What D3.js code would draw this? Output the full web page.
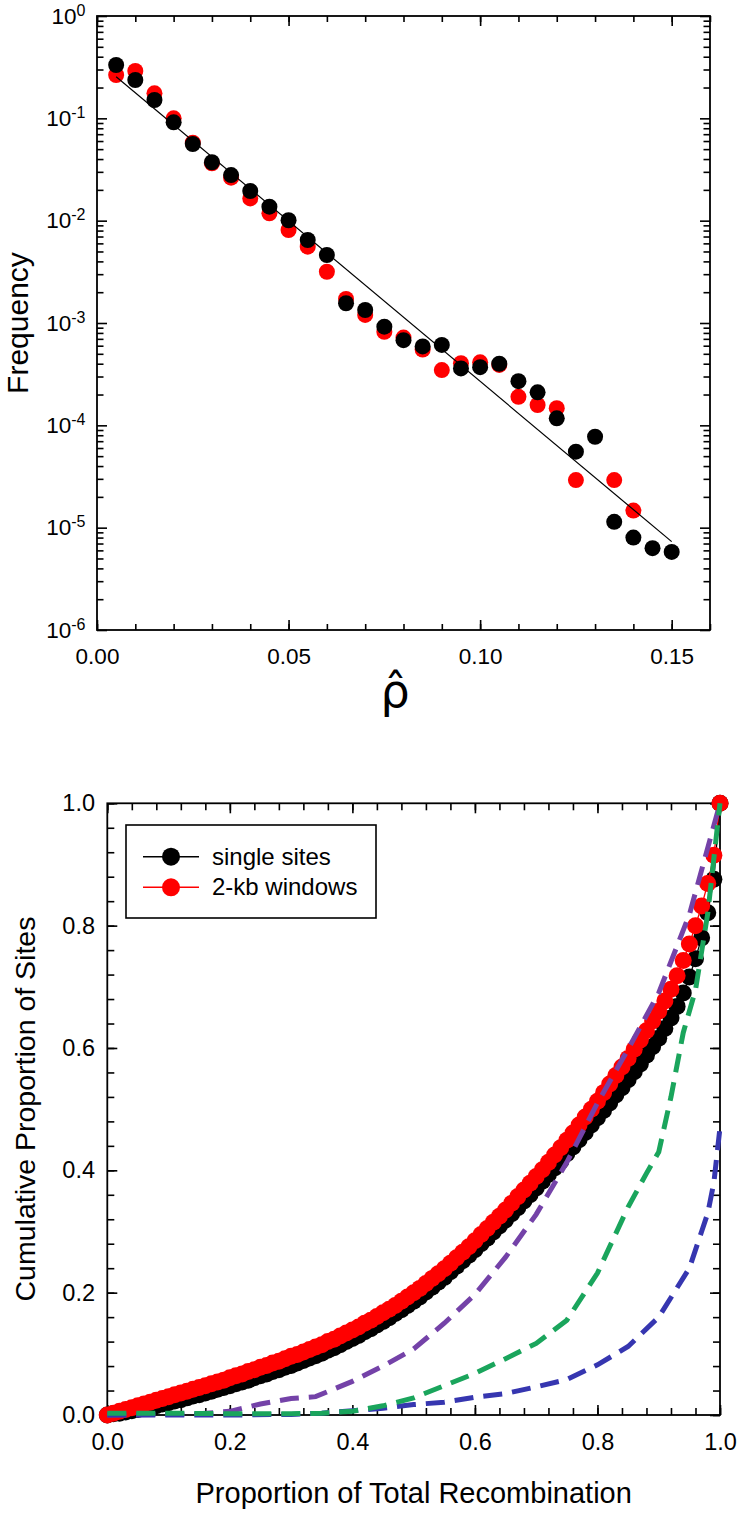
<!DOCTYPE html>
<html><head><meta charset="utf-8">
<script src="https://cdn.jsdelivr.net/npm/d3@7"></script>
<style>body{margin:0;background:#fff}svg{display:block}</style>
</head><body><svg id="c" width="740" height="1514"></svg>
<script>
// ---------- DATA: top panel (frequency of rho-hat) ----------
const rhoBins = [0.005,0.010,0.015,0.020,0.025,0.030,0.035,0.040,0.045,0.050,0.055,0.060,0.065,0.070,0.075,0.080,0.085,0.090,0.095,0.100,0.105,0.110,0.115,0.120,0.125,0.130,0.135,0.140,0.145,0.150];
const freqSingle = [0.332,0.237,0.151,0.0914,0.0561,0.0372,0.0279,0.0195,0.0137,0.0101,0.00647,0.00462,0.00156,0.00134,0.00092,0.00068,0.00059,0.00061,0.00036,0.00037,0.00040,0.00027,0.00021,0.000117,0.0000553,0.0000774,0.0000114,0.0000080,0.0000063,0.0000058];
const freqWindows = [0.265,0.290,0.1755,0.100,0.0578,0.0363,0.0263,0.0165,0.0118,0.0081,0.00557,0.00317,0.00172,0.00120,0.00082,0.00072,0.00055,0.000347,0.000404,0.000413,0.000389,0.00019,0.000158,0.000147,0.0000292,null,0.0000292,0.0000147,null,null];
const fitRho = [0.005,0.150];
const fitFreq = [0.255,0.0000073];
const topXTicks = [0,0.05,0.10,0.15];
const topYExponents = [0,-1,-2,-3,-4,-5,-6];

// ---------- DATA: bottom panel (cumulative curves) ----------
const propRecomb = [0.00,0.01,0.02,0.03,0.04,0.05,0.06,0.07,0.08,0.09,0.10,0.11,0.12,0.13,0.14,0.15,0.16,0.17,0.18,0.19,0.20,0.21,0.22,0.23,0.24,0.25,0.26,0.27,0.28,0.29,0.30,0.31,0.32,0.33,0.34,0.35,0.36,0.37,0.38,0.39,0.40,0.41,0.42,0.43,0.44,0.45,0.46,0.47,0.48,0.49,0.50,0.51,0.52,0.53,0.54,0.55,0.56,0.57,0.58,0.59,0.60,0.61,0.62,0.63,0.64,0.65,0.66,0.67,0.68,0.69,0.70,0.71,0.72,0.73,0.74,0.75,0.76,0.77,0.78,0.79,0.80,0.81,0.82,0.83,0.84,0.85,0.86,0.87,0.88,0.89,0.90,0.91,0.92,0.93,0.94,0.95,0.96,0.97,0.98,0.99,1.00];
const cumSingle = [0.000,0.002,0.003,0.005,0.007,0.009,0.011,0.013,0.015,0.018,0.020,0.023,0.025,0.028,0.031,0.033,0.036,0.039,0.042,0.045,0.048,0.051,0.054,0.057,0.061,0.064,0.067,0.071,0.074,0.078,0.081,0.085,0.089,0.093,0.097,0.101,0.106,0.110,0.115,0.120,0.125,0.130,0.136,0.141,0.147,0.153,0.159,0.166,0.172,0.179,0.186,0.193,0.201,0.209,0.217,0.225,0.234,0.243,0.252,0.261,0.270,0.280,0.289,0.299,0.309,0.319,0.329,0.339,0.350,0.360,0.371,0.382,0.393,0.404,0.415,0.427,0.438,0.450,0.462,0.474,0.486,0.498,0.510,0.523,0.535,0.548,0.561,0.574,0.588,0.602,0.616,0.632,0.649,0.668,0.690,0.716,0.746,0.780,0.821,0.876,1.000];
const cumWindows = [0.000,0.003,0.006,0.009,0.012,0.015,0.018,0.021,0.024,0.027,0.030,0.033,0.036,0.039,0.042,0.045,0.048,0.051,0.054,0.057,0.061,0.064,0.067,0.071,0.074,0.078,0.081,0.085,0.088,0.092,0.096,0.099,0.103,0.107,0.111,0.115,0.120,0.124,0.129,0.134,0.139,0.144,0.150,0.155,0.161,0.167,0.173,0.179,0.186,0.193,0.200,0.207,0.215,0.223,0.231,0.239,0.248,0.257,0.266,0.275,0.285,0.295,0.305,0.315,0.325,0.335,0.346,0.357,0.368,0.379,0.390,0.401,0.413,0.425,0.437,0.449,0.461,0.474,0.487,0.500,0.513,0.527,0.541,0.555,0.569,0.583,0.598,0.613,0.628,0.644,0.660,0.677,0.696,0.718,0.743,0.770,0.800,0.832,0.869,0.915,1.000];
const purpleX = [0,0.10,0.15,0.20,0.25,0.30,0.34,0.40,0.45,0.50,0.55,0.60,0.65,0.70,0.75,0.80,0.85,0.90,0.95,1.00];
const purpleY = [0,0.001,0.002,0.006,0.018,0.027,0.030,0.055,0.080,0.108,0.150,0.197,0.258,0.328,0.413,0.510,0.598,0.690,0.818,1.000];
const greenX = [0,0.10,0.20,0.30,0.35,0.40,0.45,0.50,0.55,0.60,0.65,0.70,0.75,0.80,0.85,0.88,0.90,0.92,0.94,0.96,0.98,1.00];
const greenY = [0.003,0.003,0.002,0.002,0.003,0.006,0.015,0.028,0.048,0.068,0.092,0.117,0.155,0.232,0.340,0.395,0.430,0.520,0.625,0.695,0.820,1.000];
const blueX = [0,0.10,0.20,0.30,0.35,0.40,0.45,0.50,0.55,0.60,0.65,0.70,0.75,0.80,0.85,0.90,0.95,0.97,0.98,0.99,1.00];
const blueY = [0,0,0,0.001,0.003,0.007,0.011,0.017,0.021,0.029,0.035,0.046,0.058,0.082,0.112,0.160,0.240,0.300,0.330,0.380,0.470];
const botTicks = [0,0.2,0.4,0.6,0.8,1.0];
const legendLabels = ["single sites","2-kb windows"];

// ---------- DRAWING ----------
const FONT = "'Liberation Sans', Arial, sans-serif";
const svg = d3.select("#c");

function styleAxis(g, fs){
  g.select(".domain").remove();
  g.attr("font-size", fs).attr("font-family", FONT);
  g.selectAll(".tick line").attr("stroke","#000").attr("stroke-width",1.6);
  g.selectAll(".tick text").attr("fill","#000");
}

// ===== TOP PANEL =====
const T = {l:97, r:710, t:16, b:630};
const xT = d3.scaleLinear().domain([0,0.16]).range([T.l,T.r]);
const yT = d3.scaleLog().domain([1e-6,1]).range([T.b,T.t]);
const xTMinor = d3.range(0,0.1601,0.01).map(v=>+v.toFixed(2));
const yTMajor = topYExponents.map(e=>Math.pow(10,e));
const yTMinor = [];
topYExponents.slice(0,-1).forEach(e=>{ for(let m=2;m<=9;m++) yTMinor.push(m*Math.pow(10,e-1)); });

const gTop = svg.append("g");
styleAxis(gTop.append("g").attr("transform",`translate(0,${T.b})`)
  .call(d3.axisBottom(xT).tickValues(xTMinor).tickSizeInner(-6).tickSizeOuter(0).tickFormat("")),22.5);
styleAxis(gTop.append("g").attr("transform",`translate(0,${T.b})`)
  .call(d3.axisBottom(xT).tickValues(topXTicks).tickSizeInner(-10).tickSizeOuter(0).tickPadding(18.5).tickFormat(d3.format(".2f"))),22.5);
styleAxis(gTop.append("g").attr("transform",`translate(0,${T.t})`)
  .call(d3.axisTop(xT).tickValues(xTMinor).tickSizeInner(-6).tickSizeOuter(0).tickFormat("")),22);
styleAxis(gTop.append("g").attr("transform",`translate(0,${T.t})`)
  .call(d3.axisTop(xT).tickValues(topXTicks).tickSizeInner(-10).tickSizeOuter(0).tickFormat("")),22);
styleAxis(gTop.append("g").attr("transform",`translate(${T.l},0)`)
  .call(d3.axisLeft(yT).tickValues(yTMinor).tickSizeInner(-6.5).tickSizeOuter(0).tickFormat("")),22);
const yLeft = gTop.append("g").attr("transform",`translate(${T.l},0)`)
  .call(d3.axisLeft(yT).tickValues(yTMajor).tickSizeInner(-10).tickSizeOuter(0).tickPadding(11.5).tickFormat(""));
styleAxis(yLeft,22.5);
yLeft.selectAll(".tick text").each(function(d,i){
  const t = d3.select(this);
  t.append("tspan").text("10");
  t.append("tspan").attr("font-size",16).attr("dy",-8).text(String(topYExponents[i]));
});
styleAxis(gTop.append("g").attr("transform",`translate(${T.r},0)`)
  .call(d3.axisRight(yT).tickValues(yTMinor).tickSizeInner(-6.5).tickSizeOuter(0).tickFormat("")),22);
styleAxis(gTop.append("g").attr("transform",`translate(${T.r},0)`)
  .call(d3.axisRight(yT).tickValues(yTMajor).tickSizeInner(-10).tickSizeOuter(0).tickFormat("")),22);
gTop.append("rect").attr("x",T.l).attr("y",T.t).attr("width",T.r-T.l).attr("height",T.b-T.t)
  .attr("fill","none").attr("stroke","#000").attr("stroke-width",1.8);

const topWin = rhoBins.map((x,i)=>({x, y:freqWindows[i]})).filter(d=>d.y!=null);
const topSing = rhoBins.map((x,i)=>({x, y:freqSingle[i]}));
gTop.append("g").selectAll("circle").data(topWin).join("circle")
  .attr("cx",d=>xT(d.x)).attr("cy",d=>yT(d.y)).attr("r",8).attr("fill","#ff0000");
gTop.append("g").selectAll("circle").data(topSing).join("circle")
  .attr("cx",d=>xT(d.x)).attr("cy",d=>yT(d.y)).attr("r",8).attr("fill","#000");
gTop.append("path").datum(fitRho.map((x,i)=>({x, y:fitFreq[i]})))
  .attr("d", d3.line().x(d=>xT(d.x)).y(d=>yT(d.y)))
  .attr("fill","none").attr("stroke","#000").attr("stroke-width",1.2);

gTop.append("text").attr("transform","translate(28,323) rotate(-90)")
  .attr("text-anchor","middle").attr("font-family",FONT).attr("font-size",30).text("Frequency");
// rho-hat as a single text (rho + combining circumflex), font with proper mark placement
gTop.append("text").attr("x",395).attr("y",707).attr("text-anchor","middle")
  .attr("font-family","'DejaVu Sans', sans-serif").attr("font-size",46).text("\u03C1\u0302");

// ===== BOTTOM PANEL =====
const B = {l:107.3, r:720, t:803.3, b:1415};
const xB = d3.scaleLinear().domain([0,1]).range([B.l,B.r]);
const yB = d3.scaleLinear().domain([0,1]).range([B.b,B.t]);
const bMinor = d3.range(0,1.0001,0.04).map(v=>+v.toFixed(2));
const fmt1 = d3.format(".1f");
const gBot = svg.append("g");
styleAxis(gBot.append("g").attr("transform",`translate(0,${B.b})`)
  .call(d3.axisBottom(xB).tickValues(bMinor).tickSizeInner(-7).tickSizeOuter(0).tickFormat("")),23);
styleAxis(gBot.append("g").attr("transform",`translate(0,${B.b})`)
  .call(d3.axisBottom(xB).tickValues(botTicks).tickSizeInner(-10).tickSizeOuter(0).tickPadding(18).tickFormat(fmt1)),23.5);
styleAxis(gBot.append("g").attr("transform",`translate(0,${B.t})`)
  .call(d3.axisTop(xB).tickValues(bMinor).tickSizeInner(-7).tickSizeOuter(0).tickFormat("")),23);
styleAxis(gBot.append("g").attr("transform",`translate(0,${B.t})`)
  .call(d3.axisTop(xB).tickValues(botTicks).tickSizeInner(-10).tickSizeOuter(0).tickFormat("")),23);
styleAxis(gBot.append("g").attr("transform",`translate(${B.l},0)`)
  .call(d3.axisLeft(yB).tickValues(bMinor).tickSizeInner(-7).tickSizeOuter(0).tickFormat("")),23);
styleAxis(gBot.append("g").attr("transform",`translate(${B.l},0)`)
  .call(d3.axisLeft(yB).tickValues(botTicks).tickSizeInner(-10).tickSizeOuter(0).tickPadding(12.3).tickFormat(fmt1)),23.5);
styleAxis(gBot.append("g").attr("transform",`translate(${B.r},0)`)
  .call(d3.axisRight(yB).tickValues(bMinor).tickSizeInner(-7).tickSizeOuter(0).tickFormat("")),23);
styleAxis(gBot.append("g").attr("transform",`translate(${B.r},0)`)
  .call(d3.axisRight(yB).tickValues(botTicks).tickSizeInner(-10).tickSizeOuter(0).tickFormat("")),23);
gBot.append("rect").attr("x",B.l).attr("y",B.t).attr("width",B.r-B.l).attr("height",B.b-B.t)
  .attr("fill","none").attr("stroke","#000").attr("stroke-width",1.8);

const lineB = d3.line().x(d=>xB(d.x)).y(d=>yB(d.y));
const sing = propRecomb.map((x,i)=>({x, y:cumSingle[i]}));
const wins = propRecomb.map((x,i)=>({x, y:cumWindows[i]}));
[[sing,"#000"],[wins,"#ff0000"]].forEach(([data,col])=>{
  gBot.append("path").datum(data).attr("d",lineB).attr("fill","none").attr("stroke",col).attr("stroke-width",1.3);
  gBot.append("g").selectAll("circle").data(data).join("circle")
    .attr("cx",d=>xB(d.x)).attr("cy",d=>yB(d.y)).attr("r",8.5).attr("fill",col);
});
[[purpleX,purpleY,"#7442a8"],[blueX,blueY,"#3636b0"],[greenX,greenY,"#1aa55c"]].forEach(([xs,ys,col])=>{
  gBot.append("path").datum(xs.map((x,i)=>({x, y:ys[i]}))).attr("d",lineB)
    .attr("fill","none").attr("stroke",col).attr("stroke-width",5).attr("stroke-dasharray","19,10");
});

// legend
const lg = gBot.append("g");
lg.append("rect").attr("x",126).attr("y",825).attr("width",250).attr("height",93)
  .attr("fill","#fff").attr("stroke","#000").attr("stroke-width",1.6);
[["#000",856.7],["#ff0000",887.3]].forEach(([col,y],i)=>{
  lg.append("line").attr("x1",143).attr("x2",199).attr("y1",y).attr("y2",y).attr("stroke",col).attr("stroke-width",1.5);
  lg.append("circle").attr("cx",171).attr("cy",y).attr("r",9).attr("fill",col);
  lg.append("text").attr("x",212).attr("y",y+8).attr("font-family",FONT).attr("font-size",24).text(legendLabels[i]);
});

gBot.append("text").attr("transform","translate(35,1109) rotate(-90)")
  .attr("text-anchor","middle").attr("font-family",FONT).attr("font-size",28.5).text("Cumulative Proportion of Sites");
gBot.append("text").attr("x",413.7).attr("y",1503).attr("text-anchor","middle")
  .attr("font-family",FONT).attr("font-size",29).text("Proportion of Total Recombination");
</script></body></html>
